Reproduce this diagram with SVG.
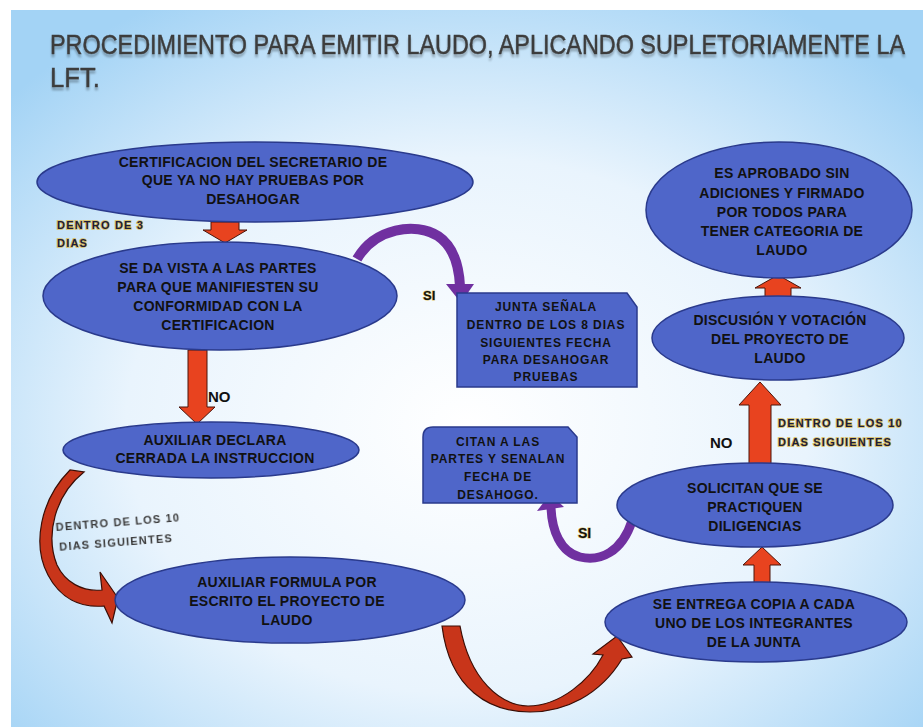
<svg xmlns="http://www.w3.org/2000/svg" width="923" height="727" viewBox="0 0 923 727">
<defs>
<radialGradient id="bg" cx="50%" cy="58%" r="68%">
<stop offset="0" stop-color="#ffffff"/>
<stop offset="0.55" stop-color="#e9f4fd"/>
<stop offset="1" stop-color="#a3d3f5"/>
</radialGradient>
<filter id="soft" filterUnits="userSpaceOnUse" x="30" y="15" width="890" height="95">
<feGaussianBlur in="SourceAlpha" stdDeviation="1.2" result="b"/>
<feOffset in="b" dy="3" result="o"/>
<feComponentTransfer in="o" result="s"><feFuncA type="linear" slope="0.3"/></feComponentTransfer>
<feMerge><feMergeNode in="s"/><feMergeNode in="SourceGraphic"/></feMerge>
</filter>
<filter id="blur1" filterUnits="userSpaceOnUse" x="40" y="500" width="160" height="70"><feGaussianBlur stdDeviation="0.5"/></filter>
</defs>
<style>
.node{fill:#4f66c9;stroke:#2a3a8c;stroke-width:1.5}
.t{font-family:"Liberation Sans",Arial,sans-serif;font-weight:bold;font-size:14px;letter-spacing:0.3px;fill:#111;text-anchor:middle}
.ts{font-size:12px;letter-spacing:0.9px}
.lbl{font-family:"Liberation Sans",Arial,sans-serif;font-weight:bold;font-size:11px;letter-spacing:1.2px;fill:#1c1c3a;stroke:#d9bd5a;stroke-width:1.6;paint-order:stroke}
.big{font-family:"Liberation Sans",Arial,sans-serif;font-weight:bold;font-size:15px;fill:#111}
.red{fill:#e8431f;stroke:#4a140a;stroke-width:1}
.redd{fill:#c8351a;stroke:#3a0e06;stroke-width:1.2}
.pur{fill:none;stroke:#7030a0;stroke-width:10}
.purh{fill:#7030a0}
.title{font-family:"Liberation Sans",Arial,sans-serif;font-size:22px;fill:#3c3c3c;stroke:#3c3c3c;stroke-width:0.35}
</style>
<rect x="0" y="0" width="923" height="727" fill="#ffffff"/>
<rect x="11" y="10" width="912" height="717" fill="url(#bg)"/>

<g id="title" filter="url(#soft)">
<g transform="scale(1,1.22)">
<text class="title" x="50" y="44.3" textLength="855" lengthAdjust="spacingAndGlyphs">PROCEDIMIENTO PARA EMITIR LAUDO, APLICANDO SUPLETORIAMENTE  LA</text>
<text class="title" x="50" y="71.3" textLength="50" lengthAdjust="spacingAndGlyphs">LFT.</text>
</g>
</g>

<g id="connectors">
<polygon class="red" points="211,222 239,222 239,230 247,230 225,243 203,230 211,230"/>
<polygon class="red" points="188,350 207,350 207,407 215,407 197,424 179,407 188,407"/>
<polygon class="red" points="754,583 770,583 770,565 781,565 762,547 743,565 754,565"/>
<polygon class="red" points="749,464 771,464 771,405 781,405 760,382 739,405 749,405"/>
<polygon class="red" points="765,298 791,298 791,288 801,288 778,275 755,288 765,288"/>
<path class="pur" d="M357,259 C375,228 415,222 438,236 C453,246 459,266 460,286"/>
<polygon class="purh" points="446,284 474,284 461,303"/>
<path class="redd" d="M70,470 C40,500 32,545 48,575 C60,598 80,608 104,606 L112,623 L118,598 L100,572 L102,590 C82,592 65,582 57,565 C45,535 55,495 84,472 Z"/>
<path class="redd" d="M442,626 L460,626 C470,680 500,705 528,706 C560,706 590,680 603,655 L593,654 L617,636 L632,657 L622,659 C600,695 565,712 530,712 C490,712 450,690 442,626 Z"/>
<path class="pur" style="stroke-width:9" d="M632,521 C622,552 600,562 580,557 C560,552 552,530 551,508"/>
<polygon class="purh" points="537,511 564,507 550,494"/>
<text class="lbl" x="57" y="229">DENTRO  DE 3</text>
<text class="lbl" x="57" y="247">DIAS</text>
<text class="big" x="423" y="300" style="font-size:13px;stroke:#d9bd5a;stroke-width:1;paint-order:stroke">SI</text>
<text class="big" x="208" y="402">NO</text>
<text class="big" x="710" y="448">NO</text>
<text class="lbl" x="778" y="427">DENTRO  DE LOS 10</text>
<text class="lbl" x="778" y="446">DIAS  SIGUIENTES</text>
<text class="big" x="578" y="538" style="font-size:14px;stroke:#d9bd5a;stroke-width:1;paint-order:stroke">SI</text>
<g transform="rotate(-4.5 56 531)" filter="url(#blur1)">
<text class="lbl" x="56" y="531" style="fill:#3a3a3a;stroke:none">DENTRO  DE LOS 10</text>
<text class="lbl" x="58" y="551" style="fill:#3a3a3a;stroke:none">DIAS SIGUIENTES</text>
</g>
</g>

<g id="n1">
<ellipse class="node" cx="255" cy="182" rx="218" ry="40"/>
<text class="t" x="253" y="167">CERTIFICACION DEL SECRETARIO DE</text>
<text class="t" x="253" y="185">QUE YA NO HAY PRUEBAS POR</text>
<text class="t" x="253" y="204">DESAHOGAR</text>
</g>
<g id="n2">
<ellipse class="node" cx="220" cy="296" rx="177" ry="54"/>
<text class="t" x="218" y="273">SE DA VISTA A LAS PARTES</text>
<text class="t" x="218" y="292">PARA QUE MANIFIESTEN SU</text>
<text class="t" x="218" y="311">CONFORMIDAD CON LA</text>
<text class="t" x="218" y="330">CERTIFICACION</text>
</g>
<g id="n3">
<path class="node" d="M457,293 L627,293 L637,307 L637,387 L457,387 Z"/>
<text class="t ts" x="546" y="311">JUNTA  SEÑALA</text>
<text class="t ts" x="546" y="329">DENTRO  DE LOS 8 DIAS</text>
<text class="t ts" x="546" y="347">SIGUIENTES  FECHA</text>
<text class="t ts" x="546" y="364">PARA DESAHOGAR</text>
<text class="t ts" x="546" y="381">PRUEBAS</text>
</g>
<g id="n4">
<ellipse class="node" cx="211" cy="450" rx="148" ry="28"/>
<text class="t" x="215" y="445">AUXILIAR  DECLARA</text>
<text class="t" x="215" y="463">CERRADA LA INSTRUCCION</text>
</g>
<g id="n5">
<ellipse class="node" cx="290" cy="600" rx="175" ry="43"/>
<text class="t" x="287" y="587">AUXILIAR  FORMULA POR</text>
<text class="t" x="287" y="606">ESCRITO EL PROYECTO DE</text>
<text class="t" x="287" y="625">LAUDO</text>
</g>
<g id="n6">
<ellipse class="node" cx="756" cy="622" rx="151" ry="40"/>
<text class="t" x="754" y="609">SE ENTREGA COPIA A CADA</text>
<text class="t" x="754" y="628">UNO DE LOS INTEGRANTES</text>
<text class="t" x="754" y="647">DE LA JUNTA</text>
</g>
<g id="n7">
<ellipse class="node" cx="755" cy="505" rx="138" ry="42"/>
<text class="t" x="755" y="493">SOLICITAN  QUE SE</text>
<text class="t" x="755" y="512">PRACTIQUEN</text>
<text class="t" x="755" y="531">DILIGENCIAS</text>
</g>
<g id="n8">
<path class="node" d="M433,427 L568,427 L577,437 L577,503 L423,503 L423,437 Q423,427 433,427 Z"/>
<text class="t ts" x="498" y="446">CITAN  A LAS</text>
<text class="t ts" x="498" y="463">PARTES  Y SENALAN</text>
<text class="t ts" x="498" y="481">FECHA DE</text>
<text class="t ts" x="498" y="499">DESAHOGO.</text>
</g>
<g id="n9">
<ellipse class="node" cx="778" cy="338" rx="126" ry="42"/>
<text class="t" x="780" y="325">DISCUSIÓN Y VOTACIÓN</text>
<text class="t" x="780" y="344">DEL PROYECTO DE</text>
<text class="t" x="780" y="363">LAUDO</text>
</g>
<g id="n10">
<ellipse class="node" cx="779" cy="210" rx="133" ry="68"/>
<text class="t" x="782" y="178">ES APROBADO SIN</text>
<text class="t" x="782" y="198">ADICIONES Y FIRMADO</text>
<text class="t" x="782" y="217">POR TODOS PARA</text>
<text class="t" x="782" y="236">TENER CATEGORIA  DE</text>
<text class="t" x="782" y="255">LAUDO</text>
</g>
</svg>
